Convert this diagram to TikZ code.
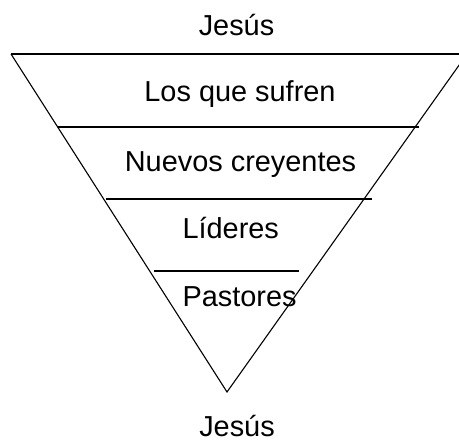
\documentclass[tikz,border=0pt]{standalone}
\usepackage{fontspec}
\setmainfont{Liberation Sans}
\tikzset{lbl/.style={font=\fontsize{29}{35}\selectfont, inner sep=0pt}}

\begin{document}
\begin{tikzpicture}[x=1bp, y=-1bp, line width=1.1bp]
          \useasboundingbox (0, 0) rectangle (459, 441);
          \coordinate (tl) at (11, 54);
          \coordinate (tr) at (467, 54);
          \coordinate (apex) at (227, 392);
          \draw (tl) -- (tr);
          \draw (tl) -- (apex) -- (tr);
          \foreach \y/\a/\b in {127/58/419, 199/106/372, 271/154/299}
          \draw (\a, \y) -- (\b, \y);
          \node[lbl, anchor=base] (top) at (236.5, 36) {Jesús};
          \node[lbl, anchor=base] (sufren) at (240, 102) {Los que sufren};
          \node[lbl, anchor=base] (nuevos) at (240.5, 172) {Nuevos creyentes};
          \node[lbl, anchor=base west] (lideres) at (182, 238) {Líderes};
          \node[lbl, anchor=base west] (pastores) at (182, 306) {Pastores};
          \node[lbl, anchor=base] (bottom) at (237, 436) {Jesús};
        \end{tikzpicture}
\end{document}
